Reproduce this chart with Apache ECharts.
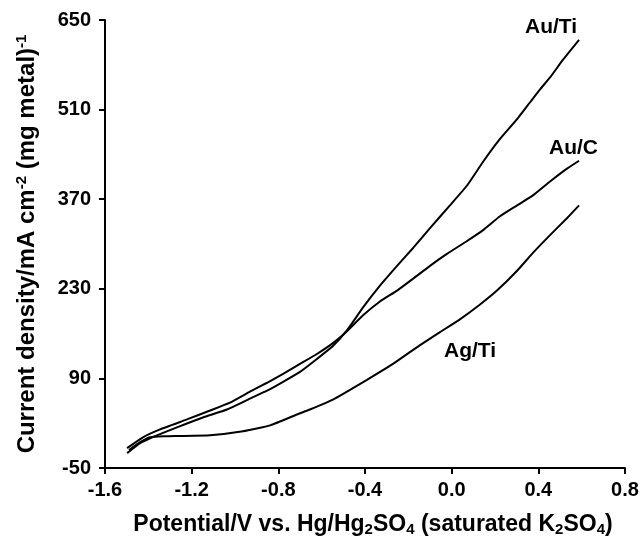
<!DOCTYPE html>
<html>
<head>
<meta charset="utf-8">
<script src="https://cdn.jsdelivr.net/npm/echarts@6/dist/echarts.min.js"></script>
<style>html,body{margin:0;padding:0;background:#fff}#c{width:643px;height:542px}</style>
</head>
<body>
<div id="c"></div>
<script>
// Potential (V) / current density pairs
var auTi = [[-1.498,-26.8],[-1.438,-11.3],[-1.392,-3.5],[-1.268,13.5],[-1.148,29],[-1.037,41.4],[-0.931,58.4],[-0.852,70.8],[-0.778,84.7],[-0.700,100.2],[-0.622,120.4],[-0.548,140.5],[-0.483,165.3],[-0.409,200.9],[-0.331,235],[-0.252,265.9],[-0.178,293.8],[-0.100,324.8],[-0.008,360.4],[0.071,391.4],[0.145,428.5],[0.223,464.2],[0.302,495.1],[0.362,521.5],[0.408,541.6],[0.454,560.2],[0.514,588],[0.588,619]];
var auC = [[-1.498,-19],[-1.425,-2],[-1.346,10.4],[-1.222,25.9],[-1.115,39.8],[-1.023,52.2],[-0.931,69.2],[-0.852,83.2],[-0.778,97.1],[-0.700,112.6],[-0.622,128.1],[-0.548,145.1],[-0.483,163.7],[-0.409,188.5],[-0.331,210.2],[-0.252,227.2],[-0.178,245.8],[-0.100,265.9],[-0.022,284.5],[0.071,304.7],[0.145,321.7],[0.223,343.4],[0.302,360.4],[0.375,375.9],[0.454,397.6],[0.532,417.7],[0.588,430.1]];
var agTi = [[-1.489,-22.1],[-1.438,-9.7],[-1.392,-2],[-1.323,-0.4],[-1.268,0],[-1.115,1.1],[-0.963,7.3],[-0.838,16.6],[-0.714,33.6],[-0.654,41.4],[-0.548,56.9],[-0.391,87.8],[-0.271,112.6],[-0.146,142],[-0.054,162.2],[0.038,182.3],[0.131,205.5],[0.209,227.2],[0.302,258.2],[0.375,286.1],[0.454,313.9],[0.532,340.3],[0.588,360.4]];
var seriesNames = ['Au/Ti','Au/C','Ag/Ti'];
var xTicks = {min:-1.6, max:0.8, step:0.4};
var yTicks = {min:-50, max:650, step:140};

var F = '"Liberation Sans", Arial, sans-serif';
var chart = echarts.init(document.getElementById('c'));
function mk(name, data){
  return {name:name, type:'line', data:data, showSymbol:false, symbol:'none', smooth:0.15,
    lineStyle:{color:'#000', width:2}, itemStyle:{color:'#000'}, animation:false, silent:true};
}
chart.setOption({
  animation:false,
  backgroundColor:'#fff',
  grid:{left:105, right:18, top:20, bottom:70, containLabel:false},
  xAxis:{type:'value', min:xTicks.min, max:xTicks.max, interval:xTicks.step,
    axisLine:{onZero:false, lineStyle:{color:'#000', width:2}},
    axisTick:{inside:false, length:6, lineStyle:{color:'#000', width:2}},
    splitLine:{show:false},
    axisLabel:{color:'#000', fontFamily:F, fontWeight:'bold', fontSize:20, margin:12,
      formatter:function(v){ if(Math.abs(v)<1e-9) return '0.0'; return v.toFixed(1);} },
    name:'Potential/V vs. Hg/Hg{s|2}SO{s|4} (saturated K{s|2}SO{s|4})',
    nameLocation:'middle', nameGap:45,
    nameTextStyle:{color:'#000', fontFamily:F, fontWeight:'bold', fontSize:23, padding:[0,0,0,16],
      rich:{s:{fontSize:15, fontFamily:F, fontWeight:'bold', color:'#000', verticalAlign:'bottom', padding:[9,0,0,0]}}}
  },
  yAxis:{type:'value', min:yTicks.min, max:yTicks.max, interval:yTicks.step,
    axisLine:{show:true, onZero:false, lineStyle:{color:'#000', width:2}},
    axisTick:{show:true, inside:false, length:6, lineStyle:{color:'#000', width:2}},
    splitLine:{show:false},
    axisLabel:{color:'#000', fontFamily:F, fontWeight:'bold', fontSize:20, margin:14},
    name:'Current density/mA cm{p|-2} (mg metal){p|-1}',
    nameLocation:'middle', nameGap:64,
    nameTextStyle:{color:'#000', fontFamily:F, fontWeight:'bold', fontSize:24,
      rich:{p:{fontSize:15, fontFamily:F, fontWeight:'bold', color:'#000', verticalAlign:'top', padding:[0,0,12,0]}}}
  },
  series:[mk(seriesNames[0], auTi), mk(seriesNames[1], auC), mk(seriesNames[2], agTi)],
  graphic:[
    {type:'text', left:525, top:17, style:{text:'Au/Ti', font:'bold 21px '+F, fill:'#000'}},
    {type:'text', left:549, top:138, style:{text:'Au/C', font:'bold 21px '+F, fill:'#000'}},
    {type:'text', left:444, top:341, style:{text:'Ag/Ti', font:'bold 21px '+F, fill:'#000'}}
  ]
});
</script>
</body>
</html>
